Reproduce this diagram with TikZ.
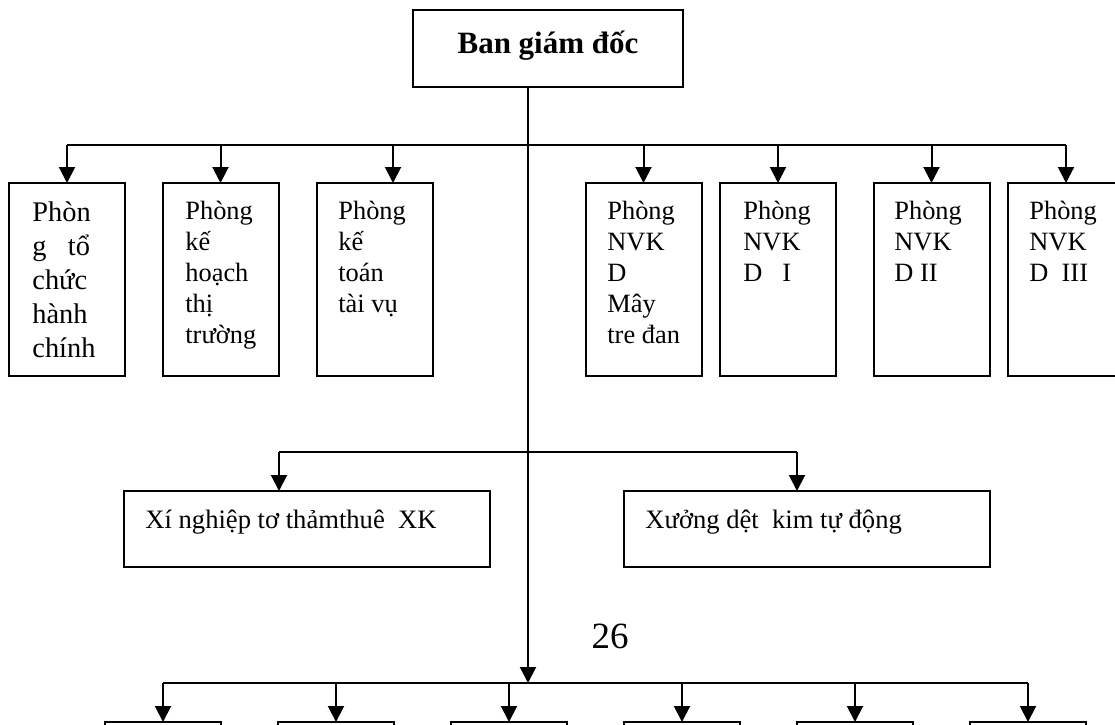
\documentclass[tikz,border=0pt]{standalone}
\usepackage{fontspec}
\setmainfont{Liberation Serif}
\usetikzlibrary{arrows.meta}
\begin{document}
\begin{tikzpicture}[x=0.5pt,y=-0.5pt,
  conn/.style={line width=1pt},
  arr/.style={conn,-{Triangle[length=8pt,width=8pt]}},
  box/.style={draw,line width=1pt,inner sep=0pt,outer sep=0pt,rectangle},
  colbox/.style={box,minimum width=58pt,minimum height=96.5pt},
  wbox/.style={box,minimum width=183pt,minimum height=38pt},
  sbox/.style={box,minimum width=58pt,minimum height=30pt},
  ctext/.style={anchor=north west,inner sep=0pt,align=left,font=\fontsize{13.2}{15.5}\selectfont},
  btext/.style={anchor=north west,inner sep=0pt,align=left,font=\fontsize{14.2}{17}\selectfont},
  mtext/.style={anchor=base west,inner sep=0pt,font=\fontsize{13.3}{16}\selectfont}]
\useasboundingbox (0,0) rectangle (1115,724);
\clip (0,0) rectangle (1115,724);
% top box
\node[box,minimum width=135pt,minimum height=38.5pt] (top) at (548,48.5) {};
\node[anchor=base,inner sep=0pt,font=\fontsize{15.5}{18}\selectfont\bfseries] (ttop) at (548,53) {Ban giám đốc};
% first row boxes
\node[colbox] (b1) at (67,279.5) {};
\node[colbox] (b2) at (220.5,279.5) {};
\node[colbox] (b3) at (374.5,279.5) {};
\node[colbox] (b4) at (643.5,279.5) {};
\node[colbox] (b5) at (778,279.5) {};
\node[colbox] (b6) at (931.5,279.5) {};
\node[colbox] (b7) at (1066,279.5) {};
\node[btext] (t1) at (32,196.9) {\strut Phòn\\g\ \ \ tổ\\chức\\hành\\chính};
\node[ctext] (t2) at (185,197.6) {\strut Phòng\\kế\\hoạch\\thị\\trường};
\node[ctext] (t3) at (338,197.6) {\strut Phòng\\kế\\toán\\tài vụ};
\node[ctext] (t4) at (607,197.6) {\strut Phòng\\NVK\\D\\Mây\\tre đan};
\node[ctext] (t5) at (743,197.6) {\strut Phòng\\NVK\\D\ \ \ I};
\node[ctext] (t6) at (894,197.6) {\strut Phòng\\NVK\\D II};
\node[ctext] (t7) at (1029,197.6) {\strut Phòng\\NVK\\D\ \ III};
% top bar
\coordinate (tb) at (528,145);
\coordinate (a3) at (393,145);
\draw[conn] (b1.north |- tb) -- (b7.north |- tb);
\foreach \b in {b1,b2,b4,b5,b6,b7}{\draw[arr] (\b.north |- tb) -- (\b.north);}
\draw[arr] (a3) -- (a3 |- b3.north);
% middle row
\node[wbox] (x1) at (307,529) {};
\node[wbox] (x2) at (807,529) {};
\node[mtext] (tx1) at (145,528) {Xí nghiệp tơ thảmthuê\ \ XK};
\node[mtext] (tx2) at (645,528) {Xưởng dệt\ \ kim tự động};
\coordinate (m1) at (279,452);
\coordinate (m2) at (797,452);
\draw[conn] (m1) -- (m2);
\draw[arr] (m1) -- (m1 |- x1.north);
\draw[arr] (m2) -- (m2 |- x2.north);
% central line
\coordinate (cb) at (528,683);
\draw[arr] (top.south -| cb) -- (cb);
% page number
\node[anchor=base,inner sep=0pt,font=\fontsize{18.5}{22}\selectfont] (pg) at (610,648) {26};
% bottom row
\node[sbox] (d1) at (163,752) {};
\node[sbox] (d2) at (336,752) {};
\node[sbox] (d3) at (509,752) {};
\node[sbox] (d4) at (682,752) {};
\node[sbox] (d5) at (855,752) {};
\node[sbox] (d6) at (1028,752) {};
\draw[conn] (d1.north |- cb) -- (d6.north |- cb);
\foreach \b in {d1,d2,d3,d4,d5,d6}{\draw[arr] (\b.north |- cb) -- (\b.north);}
\end{tikzpicture}
\end{document}
